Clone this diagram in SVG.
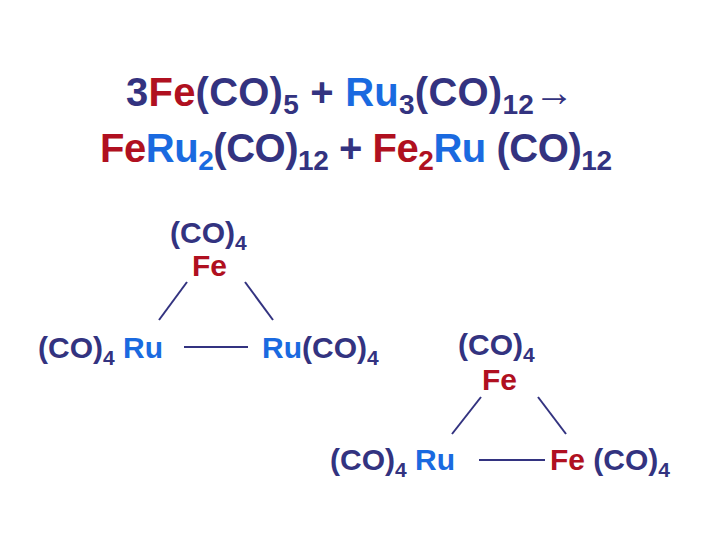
<svg xmlns="http://www.w3.org/2000/svg" width="720" height="540" viewBox="0 0 720 540">
<style>
text{font-family:"Liberation Sans",Arial,sans-serif;fill:#333380;font-weight:bold}
.t{font-size:40px}
.s{font-size:30px}
.r{fill:#b01020}.b{fill:#1a6ae0}
line{stroke:#333380;stroke-width:2}
</style>
<rect width="720" height="540" fill="#fff"/>
<g id="equation">
<text class="t" x="126" y="106" textLength="448">3<tspan class="r">Fe</tspan>(CO)<tspan font-size="28" dy="8">5</tspan><tspan dy="-8"> + </tspan><tspan class="b"> Ru</tspan><tspan font-size="28" dy="8">3</tspan><tspan dy="-8">(CO)</tspan><tspan font-size="28" dy="8">12</tspan><tspan dy="-8" font-weight="normal">→</tspan></text>
<text class="t" x="100" y="162" textLength="512"><tspan class="r">Fe</tspan><tspan class="b">Ru</tspan><tspan class="b" font-size="28" dy="8">2</tspan><tspan dy="-8">(CO)</tspan><tspan font-size="28" dy="8">12</tspan><tspan dy="-8"> + </tspan><tspan class="r">Fe</tspan><tspan class="r" font-size="28" dy="8">2</tspan><tspan class="b" dy="-8">Ru</tspan> (CO)<tspan font-size="28" dy="8">12</tspan></text>
</g>
<g id="cluster1-Fe">
<text class="s" x="170" y="243">(CO)<tspan font-size="21" dy="7">4</tspan></text>
<text class="s r" x="192" y="276">Fe</text>
</g>
<g id="cluster1-Ru1"><text class="s" x="38" y="358">(CO)<tspan font-size="21" dy="7">4</tspan><tspan class="b" dy="-7"> Ru</tspan></text></g>
<g id="cluster1-Ru2"><text class="s" x="262" y="358"><tspan class="b">Ru</tspan>(CO)<tspan font-size="21" dy="7">4</tspan></text></g>
<g id="cluster2-Fe1">
<text class="s" x="458" y="355">(CO)<tspan font-size="21" dy="7">4</tspan></text>
<text class="s r" x="482" y="390">Fe</text>
</g>
<g id="cluster2-Ru"><text class="s" x="330" y="470">(CO)<tspan font-size="21" dy="7">4</tspan><tspan class="b" dy="-7"> Ru</tspan></text></g>
<g id="cluster2-Fe2"><text class="s" x="550" y="470"><tspan class="r">Fe</tspan> (CO)<tspan font-size="21" dy="7">4</tspan></text></g>
<g id="connectors">
<line x1="187" y1="282" x2="159" y2="320"/>
<line x1="245" y1="282" x2="273" y2="320"/>
<line x1="184" y1="347" x2="248" y2="347"/>
<line x1="481" y1="397" x2="452" y2="434"/>
<line x1="538" y1="397" x2="566" y2="434"/>
<line x1="479" y1="460" x2="545" y2="460"/>
</g>
</svg>
